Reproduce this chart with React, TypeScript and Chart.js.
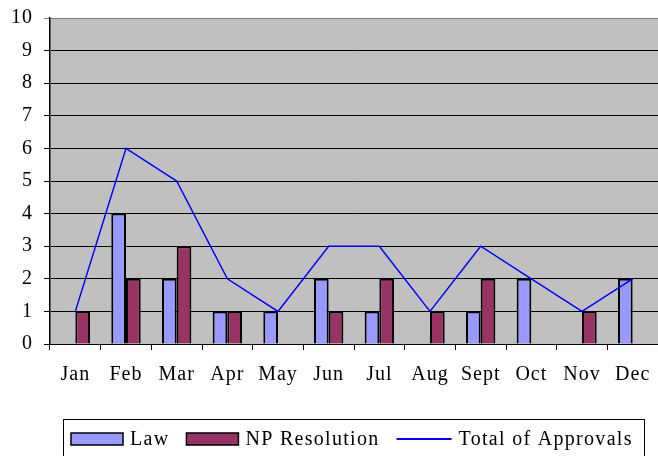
import React, { useEffect, useRef } from "react";
import { Chart, registerables } from "chart.js";

Chart.register(...registerables);

const months = ["Jan", "Feb", "Mar", "Apr", "May", "Jun", "Jul", "Aug", "Sept", "Oct", "Nov", "Dec"];
const lawValues = [0, 4, 2, 1, 1, 2, 1, 0, 1, 2, 0, 2];
const npValues = [1, 2, 3, 1, 0, 1, 2, 1, 2, 0, 1, 0];
const totalValues = [1, 6, 5, 2, 1, 3, 3, 1, 3, 2, 1, 2];
const yMin = 0;
const yMax = 10;
const yStep = 1;

const FONT = "'Liberation Serif', 'Times New Roman', serif";
const FONT_SIZE = 20;
const LETTER_SPACING = "1px";

const spacingPlugin = {
  id: "letterSpacing",
  beforeUpdate(chart: any) {
    (chart.ctx as any).letterSpacing = LETTER_SPACING;
  },
  beforeLayout(chart: any) {
    (chart.ctx as any).letterSpacing = LETTER_SPACING;
  },
  beforeDraw(chart: any) {
    (chart.ctx as any).letterSpacing = LETTER_SPACING;
  },
};

const bgPlugin = {
  id: "plotBg",
  beforeDraw(chart: any) {
    const { ctx, chartArea } = chart;
    ctx.save();
    ctx.fillStyle = "#ffffff";
    ctx.fillRect(0, 0, chart.width, chart.height);
    ctx.fillStyle = "#c0c0c0";
    ctx.fillRect(chartArea.left, chartArea.top, chartArea.right - chartArea.left, chartArea.bottom - chartArea.top);
    ctx.restore();
  },
};

const legendPlugin = {
  id: "boxLegend",
  afterDraw(chart: any) {
    const { ctx } = chart;
    const frameLeft = 63.5;
    const frameRight = 644.5;
    const frameTop = 419.5;
    const frameBottom = chart.height + 2;
    ctx.save();
    ctx.strokeStyle = "#000000";
    ctx.lineWidth = 1;
    ctx.strokeRect(frameLeft, frameTop, frameRight - frameLeft, frameBottom - frameTop);
    ctx.font = `${FONT_SIZE}px ${FONT}`;
    (ctx as any).letterSpacing = "1.3px";
    ctx.textBaseline = "alphabetic";
    const cy = 439;
    const boxW = 52;
    const lineW = 55;
    const gapText = 7;
    const gapItem = 17;
    let x = 71;
    chart.data.datasets.forEach((ds: any) => {
      const isLine = ds.type === "line";
      let symW = boxW;
      if (isLine) {
        symW = lineW;
        ctx.strokeStyle = ds.borderColor;
        ctx.lineWidth = 2;
        ctx.beginPath();
        ctx.moveTo(x, cy);
        ctx.lineTo(x + lineW, cy);
        ctx.stroke();
      } else {
        ctx.fillStyle = ds.backgroundColor;
        ctx.fillRect(x, cy - 6, boxW, 12);
        ctx.strokeStyle = "#000000";
        ctx.lineWidth = 1.5;
        ctx.strokeRect(x, cy - 6, boxW, 12);
      }
      ctx.fillStyle = "#000000";
      ctx.textAlign = "left";
      const tx = x + symW + gapText;
      ctx.fillText(ds.label, tx, 445);
      x = tx + ctx.measureText(ds.label).width + gapItem;
    });
    ctx.restore();
  },
};

export default function App() {
  const ref = useRef<HTMLCanvasElement | null>(null);
  useEffect(() => {
    if (!ref.current) return;
    const chart = new Chart(ref.current, {
      type: "bar",
      data: {
        labels: months,
        datasets: [
          {
            type: "bar",
            label: "Law",
            data: lawValues,
            backgroundColor: "#9999ff",
            borderColor: "#000000",
            borderWidth: 2,
            order: 2,
          },
          {
            type: "bar",
            label: "NP Resolution",
            data: npValues,
            backgroundColor: "#993366",
            borderColor: "#000000",
            borderWidth: 2,
            order: 2,
          },
          {
            type: "line",
            label: "Total of Approvals",
            data: totalValues,
            borderColor: "#0000ff",
            backgroundColor: "#0000ff",
            borderWidth: 1.5,
            pointRadius: 0,
            tension: 0,
            fill: false,
            order: 1,
          } as any,
        ],
      },
      options: {
        responsive: false,
        animation: false,
        devicePixelRatio: 1,
        layout: { padding: { top: 18, right: 0, bottom: 56, left: 0 } },
        datasets: {
          bar: { categoryPercentage: 0.58, barPercentage: 1 },
        } as any,
        plugins: {
          legend: { display: false },
          tooltip: { enabled: false },
        },
        scales: {
          x: {
            offset: true,
            afterFit: (s: any) => {
              s.paddingLeft = 0;
              s.paddingRight = 0;
            },
            grid: {
              offset: true,
              drawOnChartArea: false,
              drawTicks: true,
              tickLength: 6,
              color: "#000000",
            },
            border: { display: true, color: "#000000", width: 1 },
            ticks: {
              color: "#000000",
              font: { family: FONT, size: FONT_SIZE },
              padding: 13,
              maxRotation: 0,
              autoSkip: false,
            },
          },
          y: {
            min: yMin,
            max: yMax,
            afterFit: (s: any) => {
              s.width = 50;
              s.paddingTop = 0;
              s.paddingBottom = 0;
            },
            grid: {
              color: (c: any) => (c.tick && c.tick.value === yMax ? "#808080" : "#000000"),
              lineWidth: 1,
              drawTicks: true,
              tickLength: 6,
            },
            border: { display: true, color: "#000000", width: 1.5 },
            ticks: {
              stepSize: yStep,
              color: "#000000",
              font: { family: FONT, size: FONT_SIZE },
              padding: 11,
            },
          },
        },
      },
      plugins: [spacingPlugin, bgPlugin, legendPlugin],
    });
    return () => chart.destroy();
  }, []);
  return (
    <div style={{ position: "absolute", left: 0, top: 0, width: 658, height: 456 }}>
      <canvas ref={ref} width={658} height={456} style={{ display: "block" }} />
    </div>
  );
}
